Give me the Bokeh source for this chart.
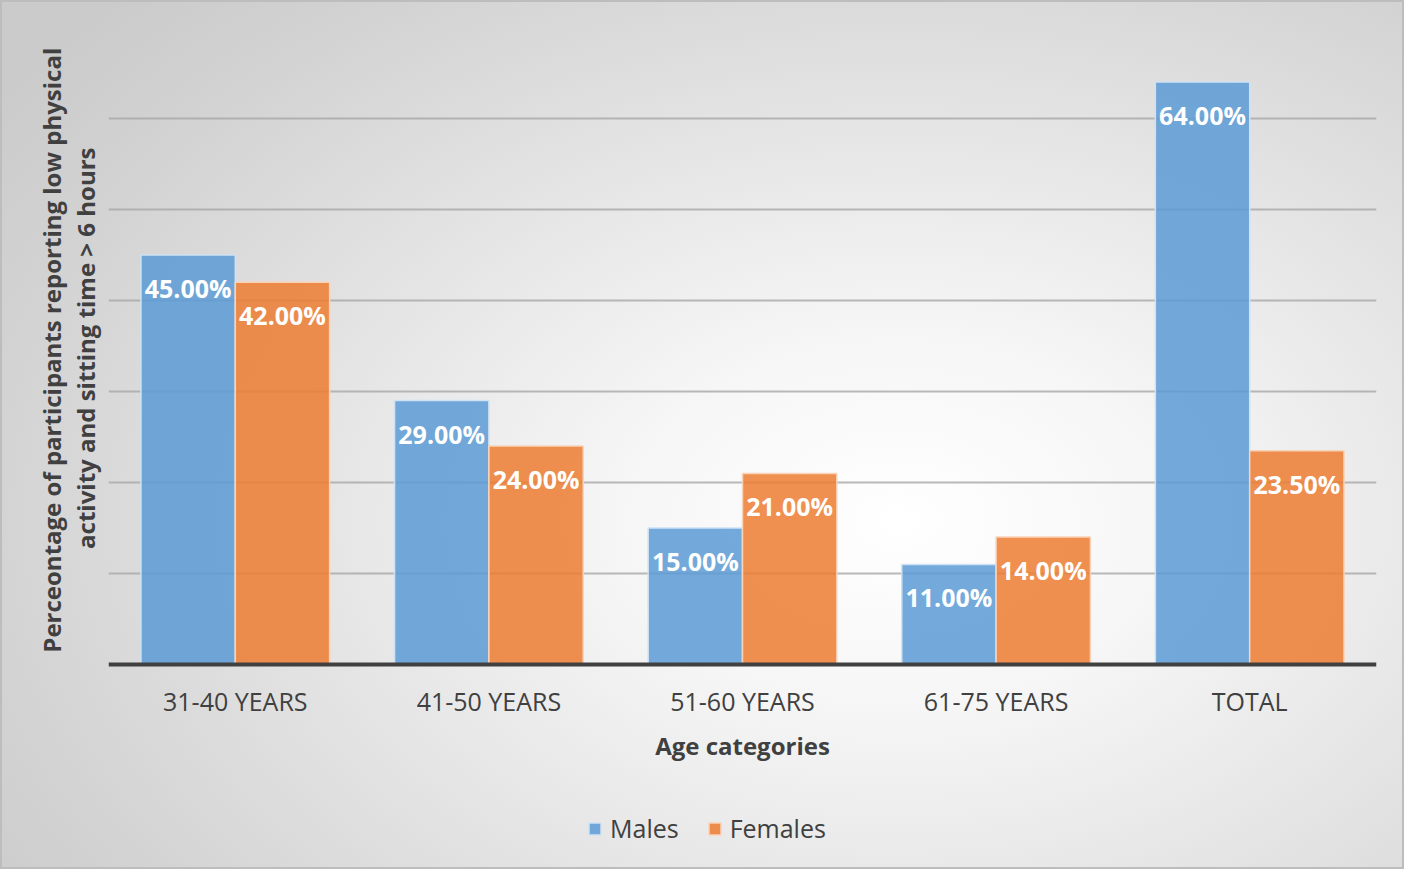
from bokeh.plotting import figure
from bokeh.models import Range1d, FixedTicker, Legend, LegendItem, ColumnDataSource, Title
from bokeh.core.properties import value
from bokeh.embed import file_html
from bokeh.resources import INLINE

categories = ["31-40 YEARS", "41-50 YEARS", "51-60 YEARS", "61-75 YEARS", "TOTAL"]
males = [45.0, 29.0, 15.0, 11.0, 64.0]
females = [42.0, 24.0, 21.0, 14.0, 23.5]
y_ticks = [10, 20, 30, 40, 50, 60, 70]
y_title_lines = ["Perceontage of participants  reporting low physical",
                 "activity and sitting time > 6 hours"]

FONT = "Open Sans"
DARK = "#404040"
BLUE = "#5b9bd5"
ORANGE = "#ed7d31"

n = len(categories)
centers = [i + 0.5 for i in range(n)]
bw = 0.372
off = 0.186

# frame spans down to the figure's bottom so the legend below the axis is not clipped
H, TOP, ZERO_Y = 869, 27, 664
px_per_unit = (ZERO_Y - TOP) / 70.0
y_start = -(H - ZERO_Y) / px_per_unit

p = figure(width=1404, height=H, output_backend="svg", toolbar_location=None,
           x_range=Range1d(0, n), y_range=Range1d(y_start, 70),
           min_border_left=108, min_border_right=28, min_border_top=TOP,
           min_border_bottom=0)
p.background_fill_color = None
p.border_fill_color = None
p.outline_line_color = None
p.styles = {
    "background": "radial-gradient(ellipse 78% 85% at 64% 60%, #ffffff 0%, #f6f6f6 25%, #e4e4e4 55%, #d2d2d2 85%, #cbcbcb 100%)",
    "outline": "2px solid #bdbdbd",
    "outline-offset": "-2px",
}

src_m = ColumnDataSource(dict(x=[c - off for c in centers], top=males,
                              lab=[f"{v:.2f}%" for v in males]))
src_f = ColumnDataSource(dict(x=[c + off for c in centers], top=females,
                              lab=[f"{v:.2f}%" for v in females]))

rm = p.vbar(x="x", top="top", width=bw, source=src_m, fill_color=BLUE, fill_alpha=0.85,
            line_color="#cfe2f3", line_width=1.5)
rf = p.vbar(x="x", top="top", width=bw, source=src_f, fill_color=ORANGE, fill_alpha=0.85,
            line_color="#f9d3b8", line_width=1.5)

for src in (src_m, src_f):
    p.text(x="x", y="top", text="lab", source=src, text_align="center",
           text_baseline="middle", y_offset=33, text_color="white",
           text_font=value(FONT), text_font_style="bold", text_font_size="25px")

# grid
p.xgrid.visible = False
p.ygrid.ticker = FixedTicker(ticks=y_ticks)
p.ygrid.grid_line_color = "#a8a8a8"
p.ygrid.grid_line_width = 2
p.ygrid.grid_line_alpha = 0.8

# y axis hidden; its two-line title drawn as left-side titles
p.yaxis.visible = False
p.add_layout(Title(text=y_title_lines[1], align="right", offset=120,
                   vertical_align="middle", standoff=11, text_font=FONT,
                   text_font_style="bold", text_font_size="24px",
                   text_color=DARK), "left")
p.add_layout(Title(text=y_title_lines[0], align="right", offset=14,
                   vertical_align="middle", standoff=-12, text_font=FONT,
                   text_font_style="bold", text_font_size="24px",
                   text_color=DARK), "left")

# x axis, placed at y = 0
p.xaxis.fixed_location = 0
p.xaxis.ticker = FixedTicker(ticks=centers)
p.xaxis.major_label_overrides = {c: cat for c, cat in zip(centers, categories)}
p.xaxis.axis_line_color = DARK
p.xaxis.axis_line_width = 4
p.xaxis.major_tick_line_color = None
p.xaxis.minor_tick_line_color = None
p.xaxis.major_tick_out = 0
p.xaxis.minor_tick_out = 0
p.xaxis.major_label_standoff = 19
p.xaxis.major_label_text_font = FONT
p.xaxis.major_label_text_font_size = "25px"
p.xaxis.major_label_text_color = DARK
p.xaxis.axis_label = "Age categories"
p.xaxis.axis_label_text_font = FONT
p.xaxis.axis_label_text_font_style = "bold"
p.xaxis.axis_label_text_font_size = "24px"
p.xaxis.axis_label_text_color = DARK
p.xaxis.axis_label_standoff = 8

legend = Legend(items=[LegendItem(label="Males", renderers=[rm]),
                       LegendItem(label="Females", renderers=[rf])],
                orientation="horizontal", location=(479, 24),
                border_line_color=None, background_fill_alpha=0,
                label_text_font=FONT, label_text_font_size="25px",
                label_text_color=DARK, glyph_width=15, glyph_height=15,
                spacing=28, margin=0, padding=0, label_standoff=8)
p.add_layout(legend)

open("out.html", "w").write(file_html(p, INLINE))
